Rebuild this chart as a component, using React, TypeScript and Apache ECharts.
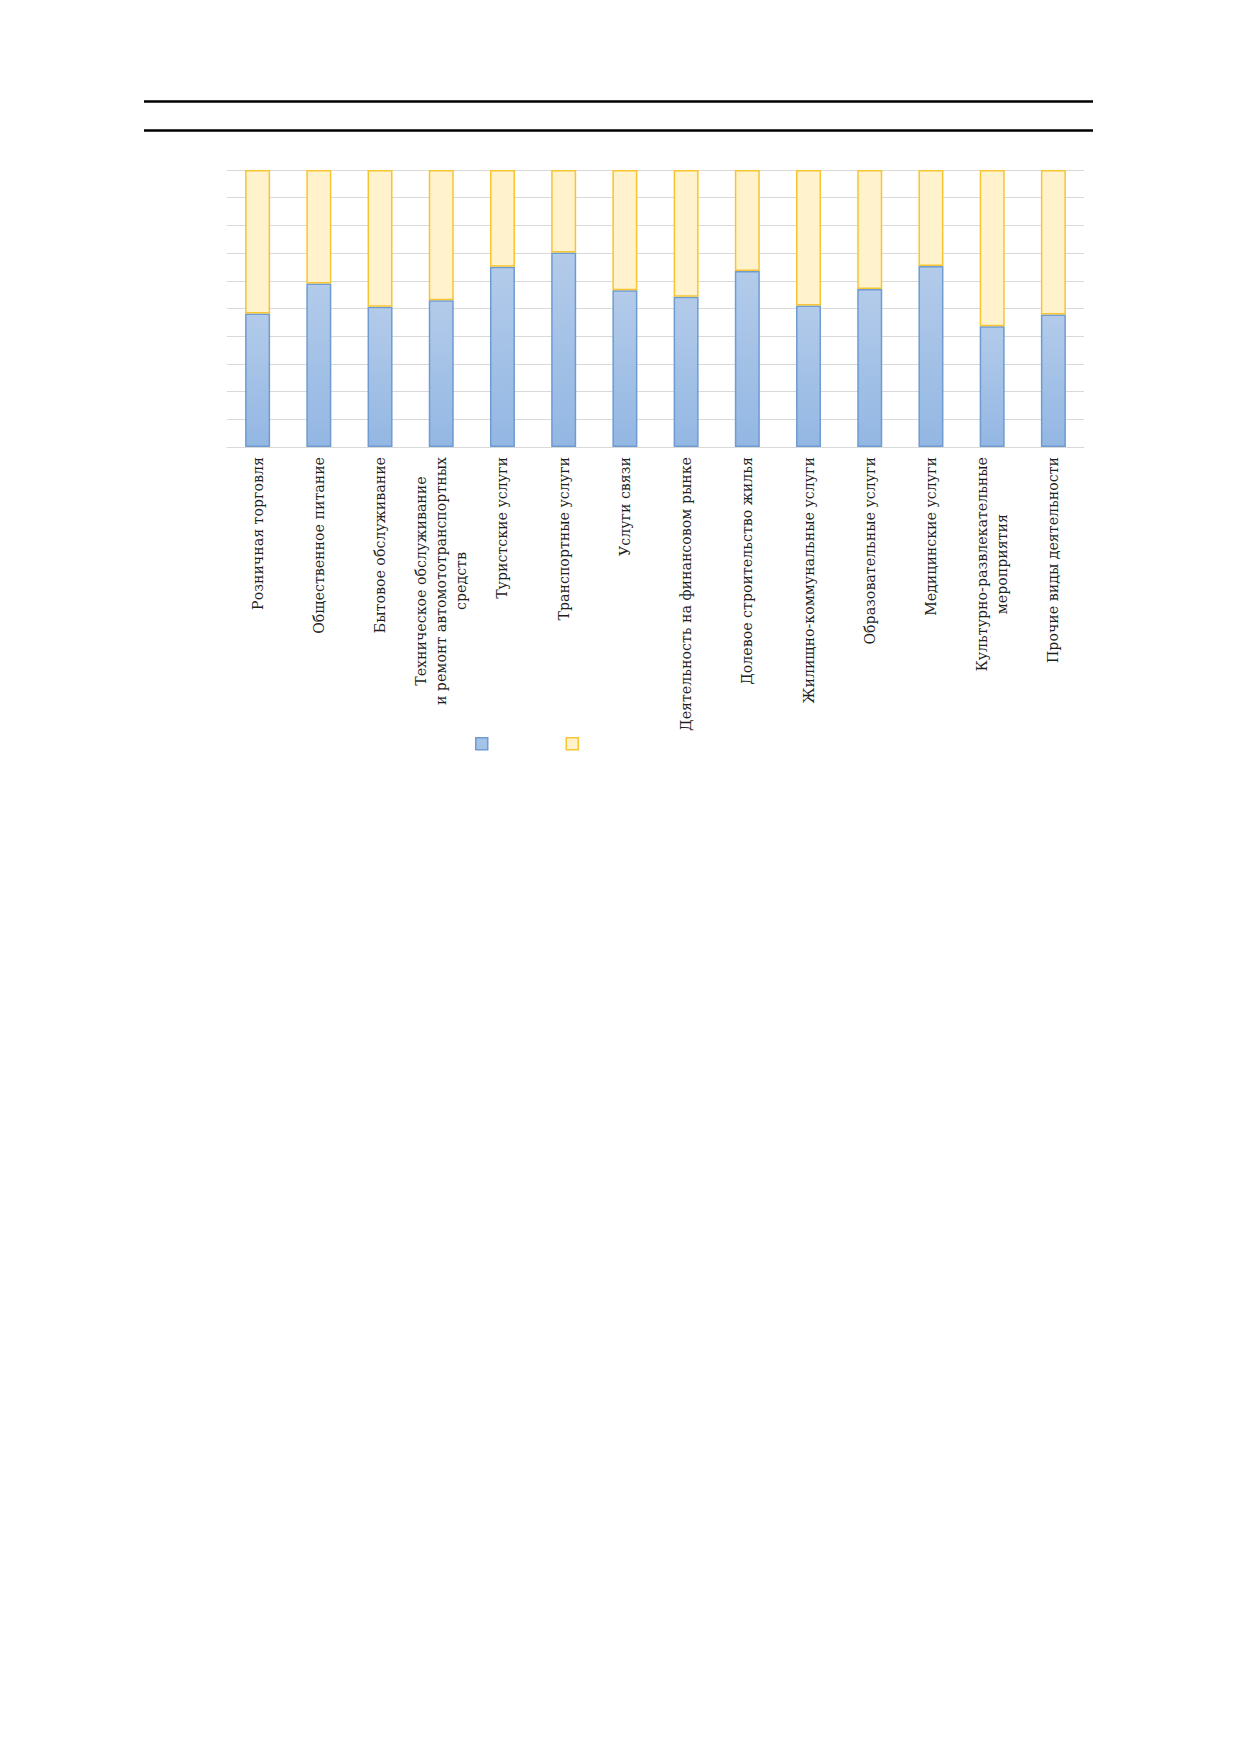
import React, { useEffect, useRef } from "react";
import * as echarts from "echarts";

const categories: string[] = [
  "Розничная торговля",
  "Общественное питание",
  "Бытовое обслуживание",
  "Техническое обслуживание\nи ремонт автомототранспортных\nсредств",
  "Туристские услуги",
  "Транспортные услуги",
  "Услуги связи",
  "Деятельность на финансовом рынке",
  "Долевое строительство жилья",
  "Жилищно-коммунальные услуги",
  "Образовательные услуги",
  "Медицинские услуги",
  "Культурно-развлекательные\nмероприятия",
  "Прочие виды деятельности",
];

const blueValues: number[] = [48.2, 59.0, 50.6, 53.0, 65.1, 70.2, 56.6, 54.2, 63.5, 51.1, 57.0, 65.3, 43.6, 47.8];
const yellowValues: number[] = [51.8, 41.0, 49.4, 47.0, 34.9, 29.8, 43.4, 45.8, 36.5, 48.9, 43.0, 34.7, 56.4, 52.2];

const seriesNames: string[] = ["Ряд 1", "Ряд 2"];

const FONT = "DejaVu Serif";
const FS = 14.2;

export default function App() {
  const ref = useRef<HTMLDivElement>(null);
  useEffect(() => {
    if (!ref.current) return;
    const chart = echarts.init(ref.current, undefined, { renderer: "svg" });
    const blueFill = new echarts.graphic.LinearGradient(0, 0, 0, 1, [
      { offset: 0, color: "#b3cbea" },
      { offset: 1, color: "#93b7e3" },
    ]);
    chart.setOption({
      animation: false,
      backgroundColor: "#ffffff",
      grid: { left: 227, right: 153, top: 170, bottom: 1307, containLabel: false },
      legend: {
        left: 470,
        top: 732,
        orient: "horizontal",
        itemWidth: 12,
        itemHeight: 12,
        itemGap: 77,
        formatter: () => "",
        data: [
          { name: seriesNames[0], icon: "rect", itemStyle: { color: "#a5c2e8", borderColor: "#6f9bd1", borderWidth: 1.5 } },
          { name: seriesNames[1], icon: "rect", itemStyle: { color: "#fff2cc", borderColor: "#f7c531", borderWidth: 1.5 } },
        ],
      },
      xAxis: {
        type: "category",
        data: categories,
        axisLine: { show: true, lineStyle: { color: "#d9d9d9", width: 1 } },
        axisTick: { show: false },
        axisLabel: {
          rotate: 90,
          interval: 0,
          margin: 10,
          color: "#1f1f1f",
          fontFamily: FONT,
          fontSize: FS,
          lineHeight: 20,
          formatter: (v: string) => v.split("\n").map((l) => `{c|${l}}`).join("\n"),
          rich: {
            c: { align: "center", fontFamily: FONT, fontSize: FS, lineHeight: 20, color: "#1f1f1f" },
          },
        },
      },
      yAxis: {
        type: "value",
        min: 0,
        max: 100,
        interval: 10,
        axisLabel: { show: false },
        axisLine: { show: false },
        axisTick: { show: false },
        splitLine: { show: true, lineStyle: { color: "#d9d9d9", width: 1 } },
      },
      series: [
        {
          name: seriesNames[0],
          type: "bar",
          stack: "total",
          barWidth: 25,
          data: blueValues,
          itemStyle: { color: blueFill, borderColor: "#6f9bd1", borderWidth: 1.5 },
        },
        {
          name: seriesNames[1],
          type: "bar",
          stack: "total",
          barWidth: 25,
          data: yellowValues,
          itemStyle: { color: "#fff2cc", borderColor: "#f7c531", borderWidth: 1.5 },
        },
      ],
      graphic: [
        { type: "line", shape: { x1: 144, y1: 101.5, x2: 1093, y2: 101.5 }, style: { stroke: "#000000", lineWidth: 2.5 } },
        { type: "line", shape: { x1: 144, y1: 130.5, x2: 1093, y2: 130.5 }, style: { stroke: "#000000", lineWidth: 2.5 } },
      ],
    });
    return () => chart.dispose();
  }, []);
  return (
    <div
      ref={ref}
      style={{ position: "absolute", left: 0, top: 0, width: 1237, height: 1754 }}
    />
  );
}
